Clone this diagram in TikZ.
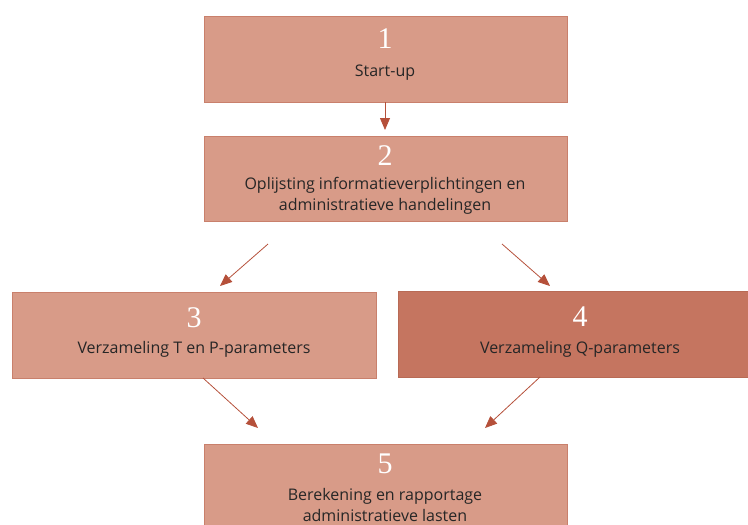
\documentclass[tikz,border=0pt]{standalone}
\usepackage{fontspec}
\setmainfont{Open Sans}
\newfontfamily\numfont{Liberation Serif}
\usetikzlibrary{arrows.meta}
\definecolor{boxlight}{HTML}{D89B88}
\definecolor{boxdark}{HTML}{C57560}
\definecolor{boxedge}{HTML}{C9806C}
\definecolor{boxedgedark}{HTML}{B86A55}
\definecolor{arrowred}{HTML}{B5503A}
\definecolor{labeltext}{HTML}{262626}
\tikzset{
  stepbox/.style={draw=boxedge, fill=boxlight, line width=1pt, anchor=north west, inner sep=0pt},
  stepboxdark/.style={stepbox, draw=boxedgedark, fill=boxdark},
  stepnum/.style={text=white, font=\numfont\fontsize{30}{30}\selectfont, inner sep=0pt},
  steplabel/.style={text=labeltext, font=\fontsize{16}{20.5}\selectfont, align=center, inner sep=0pt},
  flow/.style={draw=arrowred, line width=0.8pt, -{Triangle[length=12pt,width=10pt]}}
}
\begin{document}
\begin{tikzpicture}[x=1pt,y=-1pt]
\useasboundingbox (0,0) rectangle (748,525);
% boxes
\node[stepbox, minimum width=363pt, minimum height=86pt] (b1) at (204,16) {};
\node[stepbox, minimum width=363pt, minimum height=85pt] (b2) at (204,136) {};
\node[stepbox, minimum width=364pt, minimum height=86pt] (b3) at (12,292) {};
\node[stepboxdark, minimum width=360pt, minimum height=86pt] (b4) at (398,291) {};
\node[stepbox, minimum width=363pt, minimum height=100pt] (b5) at (204,444) {};
% numbers
\node[stepnum] (n1) at (385,39) {1};
\node[stepnum] (n2) at (385,156) {2};
\node[stepnum] (n3) at (194,318) {3};
\node[stepnum] (n4) at (580,317) {4};
\node[stepnum] (n5) at (385,464) {5};
% labels
\node[steplabel] (l1) at (385,73) {Start-up};
\node[steplabel] (l2) at (385,196) {Oplijsting informatieverplichtingen en\\administratieve handelingen};
\node[steplabel] (l3) at (194,349) {Verzameling T en P-parameters};
\node[steplabel] (l4) at (580,349) {Verzameling Q-parameters};
\node[steplabel] (l5) at (385,505) {Berekening en rapportage\\administratieve lasten};
% connector end points
\coordinate (a1s) at (385,102);
\coordinate (a1e) at (385,130);
\coordinate (a2s) at (268,244);
\coordinate (a2e) at (220,286);
\coordinate (a3s) at (502,244);
\coordinate (a3e) at (550,286);
\coordinate (a4s) at (203,378);
\coordinate (a4e) at (258,428);
\coordinate (a5s) at (540,377);
\coordinate (a5e) at (485,428);
% connectors
\draw[flow] (a1s) -- (a1e);
\draw[flow] (a2s) -- (a2e);
\draw[flow] (a3s) -- (a3e);
\draw[flow] (a4s) -- (a4e);
\draw[flow] (a5s) -- (a5e);
\end{tikzpicture}
\end{document}
